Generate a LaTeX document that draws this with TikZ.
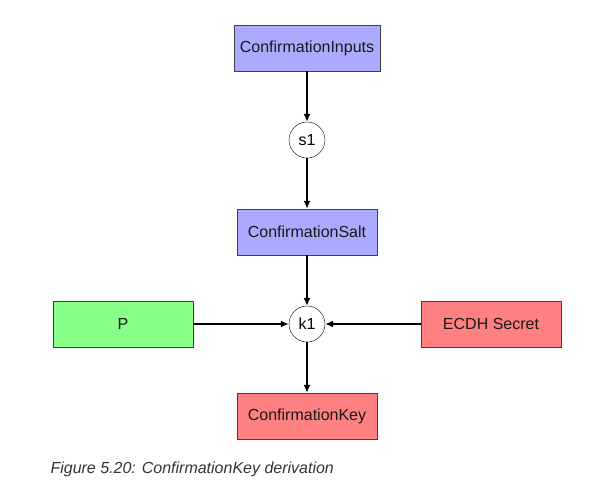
\documentclass[tikz,border=0pt]{standalone}
\usepackage{fontspec}
\setmainfont{Liberation Sans}
\usetikzlibrary{arrows.meta}
\definecolor{inblue}{HTML}{AAAAFF}
\definecolor{pgreen}{HTML}{88FF88}
\definecolor{keyred}{HTML}{FF8080}
\begin{document}
\begin{tikzpicture}[
   font=\fontsize{16pt}{19pt}\selectfont,
   every matrix/.style={ampersand replacement=\&,column sep={184pt,between origins},row sep={92pt,between origins},inner sep=0pt},
   block/.style={draw=black!75,minimum width=140pt,minimum height=46pt,inner xsep=6pt,text=black!90},
   op/.style={draw,circle,fill=white,minimum size=36pt,inner sep=0pt},
   to/.style={-{Latex[length=8pt,width=7pt]},line width=1.5pt}]
\useasboundingbox (0,0) rectangle (612pt,-493pt);
\matrix at (307pt,-232pt) {
\& \node[block,fill=inblue] (inputs) {ConfirmationInputs}; \& \\
\& \node[op] (s1) {s1}; \& \\
\& \node[block,fill=inblue] (salt) {ConfirmationSalt}; \& \\
\node[block,fill=pgreen] (P) {P}; \& \node[op] (k1) {k1}; \& \node[block,fill=keyred] (ecdh) {ECDH Secret}; \\
\& \node[block,fill=keyred] (key) {ConfirmationKey}; \& \\
};
\draw[to] (inputs) -- (s1);
\draw[to] (s1) -- (salt);
\draw[to] (salt) -- (k1);
\draw[to] (P) -- (k1);
\draw[to] (ecdh) -- (k1);
\draw[to] (k1) -- (key);
\node[anchor=base west,text=black!80] (caption) at (47pt,-473pt) {\itshape Figure 5.20: ConfirmationKey derivation};
\end{tikzpicture}
\end{document}
